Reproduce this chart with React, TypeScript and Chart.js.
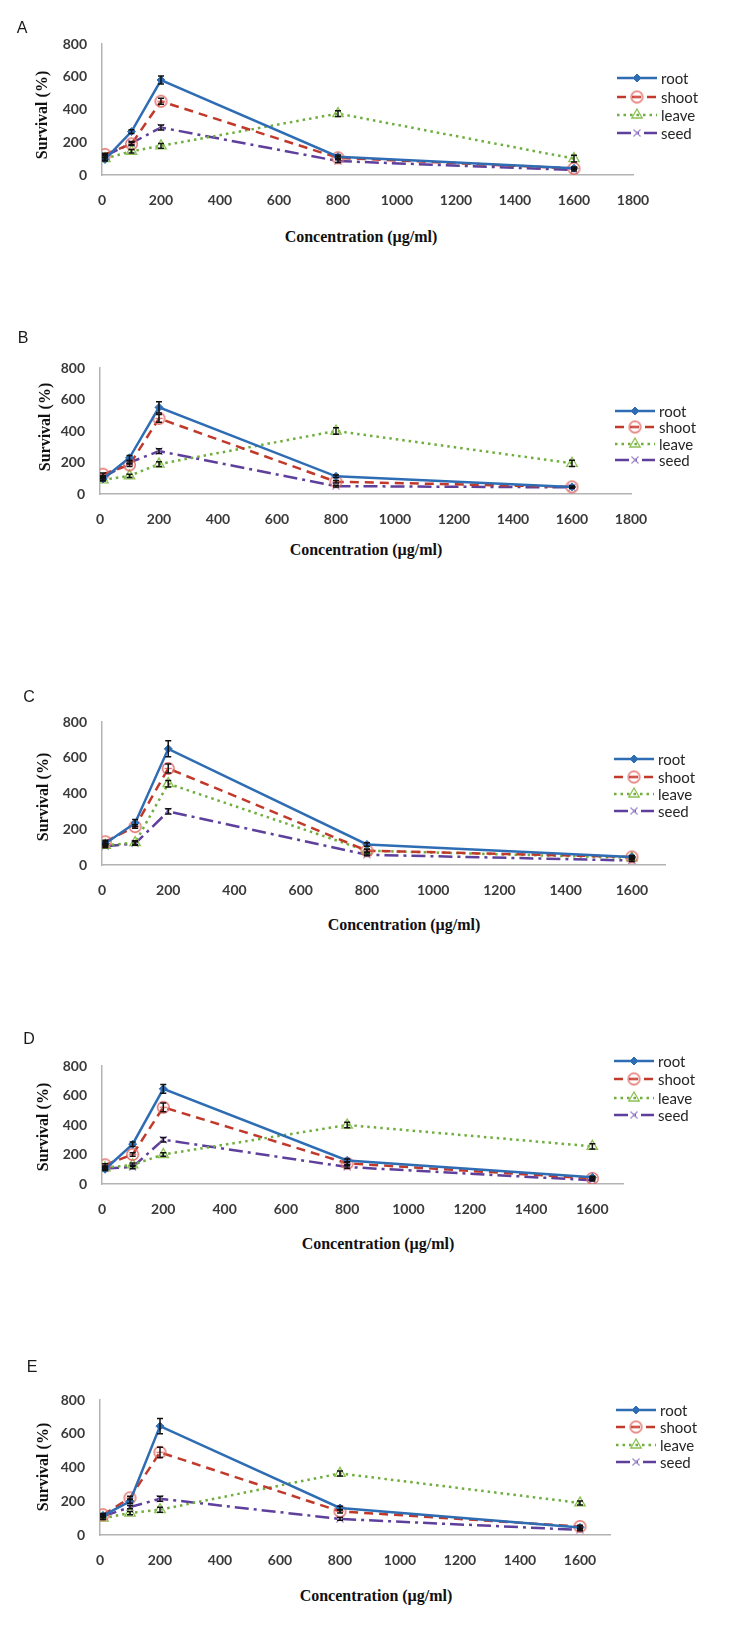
import React, { useEffect, useRef } from 'react';
import { Chart, registerables } from 'chart.js';
import { drawPoint } from 'chart.js/helpers';

Chart.register(...registerables);

// ---------- data ----------
const CONC = [10, 100, 200, 800, 1600];
const SERIES = ['root', 'shoot', 'leave', 'seed'];
const PANEL_LETTERS = ['A', 'B', 'C', 'D', 'E'];
const X_MAX = [1800, 1800, 1700, 1700, 1700];
const X_STEP = 200;
const Y_MAX = 800;
const Y_STEP = 200;
const X_TITLE = 'Concentration (µg/ml)';
const Y_TITLE = 'Survival (%)';

const A_ROOT = [95, 265, 580, 112, 41];
const A_SHOOT = [125, 190, 450, 105, 40];
const A_LEAVE = [100, 145, 178, 375, 100];
const A_SEED = [115, 195, 290, 85, 30];
const A_ROOT_ERR = [10, 12, 25, 10, 8];
const A_SHOOT_ERR = [8, 10, 18, 8, 5];
const A_LEAVE_ERR = [8, 10, 15, 18, 20];
const A_SEED_ERR = [8, 10, 15, 8, 5];

const B_ROOT = [95, 230, 550, 112, 45];
const B_SHOOT = [125, 185, 480, 78, 45];
const B_LEAVE = [90, 115, 190, 400, 195];
const B_SEED = [105, 200, 272, 50, 42];
const B_ROOT_ERR = [8, 15, 35, 8, 5];
const B_SHOOT_ERR = [8, 10, 25, 8, 5];
const B_LEAVE_ERR = [8, 10, 15, 20, 20];
const B_SEED_ERR = [8, 10, 15, 5, 5];

const C_ROOT = [120, 235, 650, 115, 45];
const C_SHOOT = [130, 215, 540, 80, 45];
const C_LEAVE = [110, 125, 455, 80, 40];
const C_SEED = [105, 120, 300, 57, 25];
const C_ROOT_ERR = [10, 20, 45, 10, 8];
const C_SHOOT_ERR = [8, 10, 25, 8, 5];
const C_LEAVE_ERR = [8, 10, 18, 8, 5];
const C_SEED_ERR = [8, 10, 15, 5, 5];

const D_ROOT = [100, 270, 645, 160, 45];
const D_SHOOT = [130, 200, 520, 140, 38];
const D_LEAVE = [110, 130, 200, 400, 255];
const D_SEED = [105, 115, 300, 115, 25];
const D_ROOT_ERR = [8, 15, 30, 10, 8];
const D_SHOOT_ERR = [8, 12, 30, 10, 8];
const D_LEAVE_ERR = [8, 12, 12, 18, 18];
const D_SEED_ERR = [8, 12, 15, 8, 5];

const E_ROOT = [115, 200, 645, 160, 45];
const E_SHOOT = [120, 220, 490, 140, 50];
const E_LEAVE = [100, 130, 150, 365, 190];
const E_SEED = [110, 165, 215, 95, 30];
const E_ROOT_ERR = [10, 12, 45, 10, 8];
const E_SHOOT_ERR = [8, 10, 30, 10, 8];
const E_LEAVE_ERR = [8, 10, 15, 15, 12];
const E_SEED_ERR = [8, 10, 15, 8, 5];

const PANEL_VALUES = [
  [A_ROOT, A_SHOOT, A_LEAVE, A_SEED],
  [B_ROOT, B_SHOOT, B_LEAVE, B_SEED],
  [C_ROOT, C_SHOOT, C_LEAVE, C_SEED],
  [D_ROOT, D_SHOOT, D_LEAVE, D_SEED],
  [E_ROOT, E_SHOOT, E_LEAVE, E_SEED],
];
const PANEL_ERRORS = [
  [A_ROOT_ERR, A_SHOOT_ERR, A_LEAVE_ERR, A_SEED_ERR],
  [B_ROOT_ERR, B_SHOOT_ERR, B_LEAVE_ERR, B_SEED_ERR],
  [C_ROOT_ERR, C_SHOOT_ERR, C_LEAVE_ERR, C_SEED_ERR],
  [D_ROOT_ERR, D_SHOOT_ERR, D_LEAVE_ERR, D_SEED_ERR],
  [E_ROOT_ERR, E_SHOOT_ERR, E_LEAVE_ERR, E_SEED_ERR],
];

// ---------- layout (page pixels) ----------
const LAYOUT = [
  { L: 102, R: 633, T: 44, B: 175, legX: 617, legY: [78, 97, 115, 133], letter: [22, 28], xTitle: [361, 237], yTitle: [42, 115] },
  { L: 100, R: 631, T: 368, B: 494, legX: 615, legY: [411, 427, 444, 460], letter: [23, 338], xTitle: [366, 550], yTitle: [45, 427] },
  { L: 102, R: 665, T: 722, B: 865, legX: 614, legY: [759, 777, 794, 811], letter: [29, 697], xTitle: [404, 925], yTitle: [43, 797] },
  { L: 102, R: 623, T: 1066, B: 1184, legX: 614, legY: [1061, 1079, 1098, 1115], letter: [29, 1039], xTitle: [378, 1244], yTitle: [43, 1127] },
  { L: 100, R: 610, T: 1400, B: 1535, legX: 616, legY: [1410, 1427, 1445, 1462], letter: [32, 1367], xTitle: [376, 1596], yTitle: [43, 1467] },
];

const PAGE_W = 735;
const PAD = 40;

const STYLES = [
  { borderColor: '#2E6DB4', borderWidth: 2.5, borderDash: [], pointStyle: 'rectRot', pointRadius: 4, pointBackgroundColor: '#2E6DB4', pointBorderColor: '#2E6DB4', pointBorderWidth: 1 },
  { borderColor: '#C0392B', borderWidth: 2.5, borderDash: [9, 6], pointStyle: 'circle', pointRadius: 6, pointBackgroundColor: 'rgba(255,255,255,0)', pointBorderColor: '#E06C66', pointBorderWidth: 1.3 },
  { borderColor: '#6FAE3C', borderWidth: 2.5, borderDash: [2.5, 4], pointStyle: 'triangle', pointRadius: 6, pointBackgroundColor: 'rgba(255,255,255,0)', pointBorderColor: '#8CC152', pointBorderWidth: 1.3 },
  { borderColor: '#5E3F9C', borderWidth: 2.5, borderDash: [14, 5, 3, 5], pointStyle: 'crossRot', pointRadius: 5, pointBackgroundColor: '#A48FD0', pointBorderColor: '#A48FD0', pointBorderWidth: 1.3 },
];

function makeShootMarker(color: string) {
  const c = document.createElement('canvas');
  c.width = 15;
  c.height = 15;
  const g = c.getContext('2d')!;
  g.strokeStyle = color;
  g.lineWidth = 1.4;
  g.beginPath();
  g.arc(7.5, 7.5, 5.8, 0, Math.PI * 2);
  g.stroke();
  g.beginPath();
  g.moveTo(3.8, 7.5);
  g.lineTo(11.2, 7.5);
  g.stroke();
  return c;
}

const TICK_FONT = { family: 'Lato, "Liberation Sans", sans-serif', size: 14, weight: 'bold' as const };
const plainTick = (v: any) => String(v);

function Panel({ idx }: { idx: number }) {
  const ref = useRef<HTMLCanvasElement>(null);
  const p = LAYOUT[idx];
  const top = p.T - PAD;
  const h = p.B - p.T + 2 * PAD;

  useEffect(() => {
    if (!ref.current) return;
    const values = PANEL_VALUES[idx];
    const errors = PANEL_ERRORS[idx];
    const shootMarker = makeShootMarker('#E06C66');

    const datasets: any[] = SERIES.map((name, si) => ({
      label: name,
      data: CONC.map((x, j) => ({ x, y: values[si][j] })),
      errs: errors[si],
      tension: 0,
      fill: false,
      ...STYLES[si],
      pointStyle: si === 1 ? shootMarker : STYLES[si].pointStyle,
    }));

    const legendPlugin = {
      id: 'customLegend',
      afterDraw(chart: any) {
        const ctx = chart.ctx;
        chart.data.datasets.forEach((ds: any, i: number) => {
          const y = p.legY[i] - top;
          const x0 = p.legX;
          ctx.save();
          ctx.strokeStyle = ds.borderColor;
          ctx.lineWidth = ds.borderWidth;
          ctx.setLineDash(ds.borderDash || []);
          ctx.beginPath();
          ctx.moveTo(x0, y);
          ctx.lineTo(x0 + 40, y);
          ctx.stroke();
          ctx.setLineDash([]);
          ctx.strokeStyle = ds.pointBorderColor;
          ctx.fillStyle = ds.pointBackgroundColor;
          ctx.lineWidth = ds.pointBorderWidth;
          drawPoint(ctx, { pointStyle: ds.pointStyle, rotation: 0, radius: ds.pointRadius, borderWidth: ds.pointBorderWidth }, x0 + 20, y);
          ctx.fillStyle = '#262626';
          ctx.font = '15px Lato, "Liberation Sans", sans-serif';
          ctx.textBaseline = 'middle';
          ctx.textAlign = 'left';
          ctx.fillText(ds.label, x0 + 44, y + 1);
          ctx.restore();
        });
      },
    };

    const errorPlugin = {
      id: 'errorBars',
      afterDatasetsDraw(chart: any) {
        const ctx = chart.ctx;
        const ys = chart.scales.y;
        ctx.save();
        ctx.strokeStyle = '#111';
        ctx.lineWidth = 1.5;
        chart.data.datasets.forEach((ds: any, di: number) => {
          const meta = chart.getDatasetMeta(di);
          meta.data.forEach((pt: any, j: number) => {
            const v = ds.data[j].y;
            const e = ds.errs[j];
            const yt = ys.getPixelForValue(v + e);
            const yb = ys.getPixelForValue(v - e);
            const x = pt.x;
            ctx.beginPath();
            ctx.moveTo(x, yt);
            ctx.lineTo(x, yb);
            ctx.moveTo(x - 3, yt);
            ctx.lineTo(x + 3, yt);
            ctx.moveTo(x - 3, yb);
            ctx.lineTo(x + 3, yb);
            ctx.stroke();
          });
        });
        ctx.restore();
      },
    };

    const chart = new Chart(ref.current, {
      type: 'line',
      data: { datasets },
      options: {
        animation: false,
        responsive: false,
        events: [],
        layout: { padding: { top: PAD, right: PAGE_W - p.R, left: 0, bottom: 0 } },
        plugins: { legend: { display: false }, tooltip: { enabled: false } },
        scales: {
          x: {
            type: 'linear',
            min: 0,
            max: X_MAX[idx],
            grid: { display: false, drawTicks: false },
            border: { display: true, color: '#B3B3B3', width: 1.5 },
            ticks: { stepSize: X_STEP, includeBounds: false, padding: 17, color: '#3A3A3A', font: TICK_FONT, maxRotation: 0, autoSkip: false, callback: plainTick },
            afterFit: (s: any) => { s.height = PAD; },
          },
          y: {
            min: 0,
            max: Y_MAX,
            grid: { display: false, drawTicks: false },
            border: { display: true, color: '#B3B3B3', width: 1.5 },
            ticks: { stepSize: Y_STEP, padding: 15, color: '#3A3A3A', font: TICK_FONT, callback: plainTick },
            afterFit: (s: any) => { s.width = p.L; },
          },
        },
      } as any,
      plugins: [errorPlugin, legendPlugin],
    });
    return () => chart.destroy();
  }, [idx]);

  const textBase: React.CSSProperties = { position: 'absolute', whiteSpace: 'nowrap', lineHeight: 1, color: '#111' };

  return (
    <>
      <canvas ref={ref} width={PAGE_W} height={h} style={{ position: 'absolute', left: 0, top, width: PAGE_W, height: h }} />
      <div style={{ ...textBase, left: p.letter[0], top: p.letter[1], transform: 'translate(-50%,-50%)', fontFamily: '"Liberation Sans", Arial, sans-serif', fontSize: 16, color: '#1a1a1a' }}>
        {PANEL_LETTERS[idx]}
      </div>
      <div style={{ ...textBase, left: p.xTitle[0], top: p.xTitle[1], transform: 'translate(-50%,-50%)', fontFamily: '"Liberation Serif", "Times New Roman", serif', fontSize: 16, fontWeight: 'bold' }}>
        {X_TITLE}
      </div>
      <div style={{ ...textBase, left: p.yTitle[0], top: p.yTitle[1], transform: 'translate(-50%,-50%) rotate(-90deg)', fontFamily: '"Liberation Serif", "Times New Roman", serif', fontSize: 16, fontWeight: 'bold' }}>
        {Y_TITLE}
      </div>
    </>
  );
}

export default function App() {
  return (
    <div style={{ position: 'absolute', left: 0, top: 0, width: PAGE_W, height: 1641, background: '#fff', overflow: 'hidden' }}>
      {LAYOUT.map((_, i) => (
        <Panel key={i} idx={i} />
      ))}
    </div>
  );
}
